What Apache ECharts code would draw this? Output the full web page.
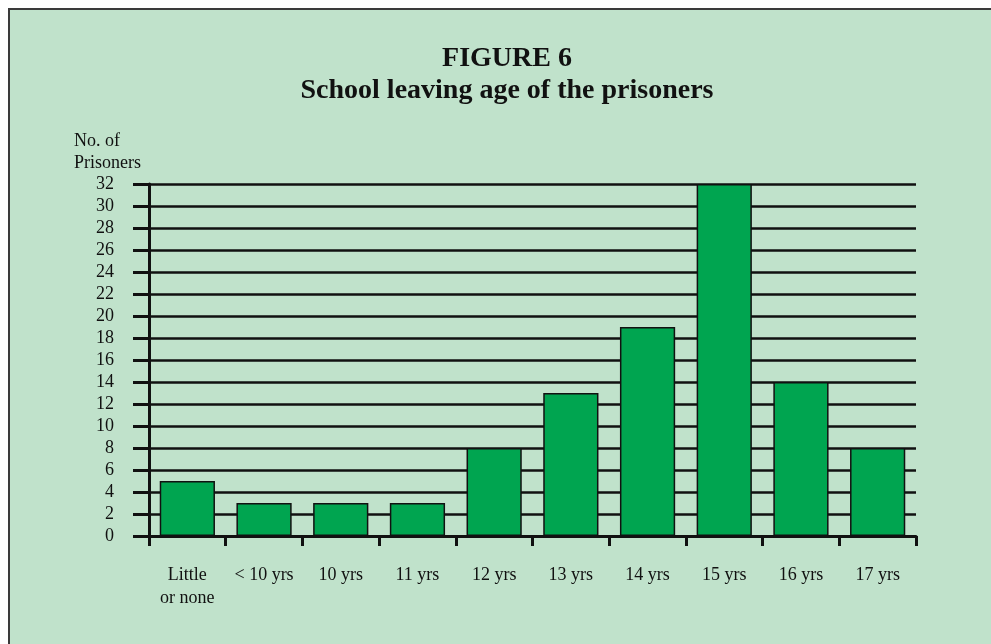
<!DOCTYPE html>
<html>
<head>
    <meta charset="UTF-8">
    <script type="text/javascript" src="https://cdn.jsdelivr.net/npm/echarts@6/dist/echarts.min.js"></script>
    <style>
        body { margin: 0; background: #ffffff; overflow: hidden; }
        #panel { position: absolute; left: 8px; top: 8px; width: 1000px; height: 700px;
                 background: #c0e2cb; border: 2px solid #3a3a3a; }
        #myDiv { position: absolute; left: 0; top: 0; width: 991px; height: 644px; }
    </style>
</head>
<body>
    <div id="panel"></div>
    <div id="myDiv"></div>
    <script type="text/javascript">
        // data
        var categories = ['Little\nor none', '< 10 yrs', '10 yrs', '11 yrs', '12 yrs', '13 yrs', '14 yrs', '15 yrs', '16 yrs', '17 yrs'];
        var prisoners = [5, 3, 3, 3, 8, 13, 19, 32, 14, 8];
        var yMin = 0, yMax = 32, yStep = 2;

        var serif = '"Liberation Serif", "DejaVu Serif", serif';

        var chart = echarts.init(document.getElementById('myDiv'));
        var option = {
            animation: false,
            backgroundColor: 'transparent',
            title: {
                text: 'FIGURE 6\nSchool leaving age of the prisoners',
                left: 502,
                top: 38,
                textAlign: 'center',
                textStyle: {
                    fontFamily: serif,
                    fontSize: 28,
                    fontWeight: 'bold',
                    color: '#111',
                    lineHeight: 32
                }
            },
            graphic: [{
                type: 'text',
                left: 74,
                top: 130,
                style: {
                    text: 'No. of\nPrisoners',
                    font: '18px ' + serif,
                    lineHeight: 22,
                    fill: '#111'
                }
            }],
            grid: {
                left: 149,
                right: 75,
                top: 184,
                bottom: 108
            },
            xAxis: {
                type: 'category',
                data: categories,
                boundaryGap: true,
                axisLine: { lineStyle: { color: '#111', width: 3 } },
                axisTick: {
                    show: true,
                    alignWithLabel: false,
                    length: 10,
                    lineStyle: { color: '#111', width: 3 }
                },
                axisLabel: {
                    margin: 28,
                    interval: 0,
                    fontFamily: serif,
                    fontSize: 18,
                    lineHeight: 23,
                    color: '#111'
                }
            },
            yAxis: {
                type: 'value',
                min: yMin,
                max: yMax,
                interval: yStep,
                axisLine: { show: true, lineStyle: { color: '#111', width: 3 } },
                axisTick: {
                    show: true,
                    length: 16,
                    lineStyle: { color: '#111', width: 3 }
                },
                splitLine: { lineStyle: { color: '#111', width: 2.5 } },
                axisLabel: {
                    margin: 35,
                    fontFamily: serif,
                    fontSize: 18,
                    color: '#111'
                }
            },
            series: [{
                name: 'Prisoners',
                type: 'bar',
                data: prisoners,
                barWidth: '72%',
                itemStyle: {
                    color: '#00a550',
                    borderColor: '#111',
                    borderWidth: 1.5
                }
            }]
        };
        chart.setOption(option);
    </script>
</body>
</html>
